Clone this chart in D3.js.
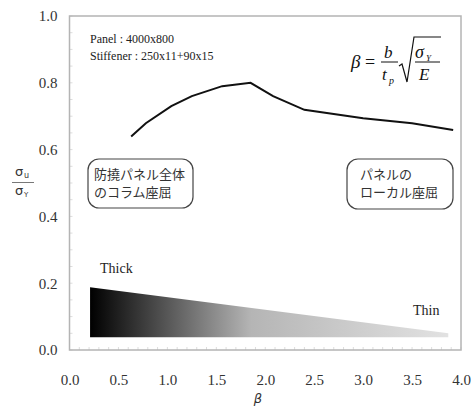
<!DOCTYPE html>
<html>
<head>
<meta charset="utf-8">
<script src="https://cdn.jsdelivr.net/npm/d3@7"></script>
<style>
  body { margin: 0; background: #fff; }
  svg { display: block; }
  .tick text { font-family: "Liberation Serif", "Times New Roman", serif; font-size: 15px; fill: #333; }
  .serif { font-family: "Liberation Serif", "Times New Roman", serif; }
  .jp { font-family: "Noto Sans CJK JP", sans-serif; font-size: 13px; fill: #333; }
</style>
</head>
<body>
<script>
// chart values
var betaVals = [0.63, 0.78, 1.04, 1.25, 1.56, 1.85, 2.08, 2.4, 3.0, 3.5, 3.92];
var strengthVals = [0.639, 0.679, 0.730, 0.760, 0.790, 0.800, 0.760, 0.719, 0.694, 0.679, 0.659];
var xTicks = [0.0, 0.5, 1.0, 1.5, 2.0, 2.5, 3.0, 3.5, 4.0];
var yTicks = [0.0, 0.2, 0.4, 0.6, 0.8, 1.0];
// thickness wedge: beta range and upper / lower edge values
var wedgeX = [0.21, 3.87];
var wedgeTop = [0.188, 0.05];
var wedgeBottom = [0.038, 0.038];

var width = 471, height = 408;
var margin = {top: 16, right: 10, bottom: 58, left: 69.5};

var svg = d3.select("body").append("svg")
    .attr("width", width)
    .attr("height", height);

var x = d3.scaleLinear().domain([0, 4]).range([margin.left, width - margin.right]);
var y = d3.scaleLinear().domain([0, 1]).range([height - margin.bottom, margin.top]);

// gradient for the wedge
var defs = svg.append("defs");
var grad = defs.append("linearGradient")
    .attr("id", "wedgeGrad")
    .attr("x1", "0%").attr("x2", "100%").attr("y1", "0%").attr("y2", "0%");
grad.append("stop").attr("offset", "0%").attr("stop-color", "#000");
grad.append("stop").attr("offset", "45%").attr("stop-color", "#b5b5b5");
grad.append("stop").attr("offset", "100%").attr("stop-color", "#e2e2e2");

// minor ticks (faint)
svg.append("g")
    .selectAll("line")
    .data(d3.range(0, 4.001, 0.1))
    .enter().append("line")
    .attr("x1", function(d) { return x(d); })
    .attr("x2", function(d) { return x(d); })
    .attr("y1", y(0))
    .attr("y2", y(0) - 3)
    .attr("stroke", "#ddd");
svg.append("g")
    .selectAll("line")
    .data(d3.range(0, 1.001, 0.05))
    .enter().append("line")
    .attr("x1", x(0))
    .attr("x2", x(0) + 3)
    .attr("y1", function(d) { return y(d); })
    .attr("y2", function(d) { return y(d); })
    .attr("stroke", "#ddd");

// frame
svg.append("rect")
    .attr("x", x(0))
    .attr("y", y(1))
    .attr("width", x(4) - x(0))
    .attr("height", y(0) - y(1))
    .attr("fill", "none")
    .attr("stroke", "#b4b4b4")
    .attr("stroke-width", 1.5);

// axes
svg.append("g")
    .attr("transform", "translate(0," + y(0) + ")")
    .call(d3.axisBottom(x).tickValues(xTicks).tickSize(0).tickPadding(24).tickFormat(d3.format(".1f")))
    .call(function(g) { g.select(".domain").remove(); });

svg.append("g")
    .attr("transform", "translate(" + x(0) + ",0)")
    .call(d3.axisLeft(y).tickValues(yTicks).tickSize(0).tickPadding(12).tickFormat(d3.format(".1f")))
    .call(function(g) { g.select(".domain").remove(); });

// wedge
var wedgePts = [
  [x(wedgeX[0]), y(wedgeTop[0])],
  [x(wedgeX[1]), y(wedgeTop[1])],
  [x(wedgeX[1]), y(wedgeBottom[1])],
  [x(wedgeX[0]), y(wedgeBottom[0])]
];
svg.append("polygon")
    .attr("points", wedgePts.map(function(p) { return p.join(","); }).join(" "))
    .attr("fill", "url(#wedgeGrad)");

// strength curve
var line = d3.line()
    .x(function(d, i) { return x(betaVals[i]); })
    .y(function(d) { return y(d); });
svg.append("path")
    .datum(strengthVals)
    .attr("d", line)
    .attr("fill", "none")
    .attr("stroke", "#111")
    .attr("stroke-width", 2);

// panel info
svg.append("text").attr("class", "serif")
    .attr("x", 90).attr("y", 43)
    .attr("font-size", 12).attr("fill", "#222")
    .text("Panel : 4000x800");
svg.append("text").attr("class", "serif")
    .attr("x", 90).attr("y", 60)
    .attr("font-size", 12).attr("fill", "#222")
    .text("Stiffener : 250x11+90x15");

// formula
var f = svg.append("g").attr("class", "serif").attr("fill", "#111");
f.append("text").attr("x", 351).attr("y", 68).attr("font-size", 19).attr("font-style", "italic").text("β");
f.append("text").attr("x", 365).attr("y", 68).attr("font-size", 18).text("=");
f.append("text").attr("x", 384).attr("y", 58).attr("font-size", 17).attr("font-style", "italic").text("b");
f.append("line").attr("x1", 381).attr("x2", 398).attr("y1", 62).attr("y2", 62).attr("stroke", "#111").attr("stroke-width", 1);
f.append("text").attr("x", 382).attr("y", 80).attr("font-size", 17).attr("font-style", "italic").text("t");
f.append("text").attr("x", 389).attr("y", 84).attr("font-size", 10).attr("font-style", "italic").text("p");
f.append("path").attr("d", "M399,66 L402,64 L407,82 L414,37 L441,37")
    .attr("fill", "none").attr("stroke", "#111").attr("stroke-width", 1.2);
f.append("text").attr("x", 415).attr("y", 58).attr("font-size", 18).attr("font-style", "italic").text("σ");
f.append("text").attr("x", 426).attr("y", 61).attr("font-size", 9).attr("font-style", "italic").text("Y");
f.append("line").attr("x1", 415).attr("x2", 440).attr("y1", 62).attr("y2", 62).attr("stroke", "#111").attr("stroke-width", 1);
f.append("text").attr("x", 419).attr("y", 80).attr("font-size", 17).attr("font-style", "italic").text("E");

// y-axis label
var yl = svg.append("g").attr("fill", "#333").attr("font-family", "'DejaVu Sans', sans-serif");
yl.append("text").attr("x", 15).attr("y", 176).attr("font-size", 13).text("σ");
yl.append("text").attr("x", 24).attr("y", 178).attr("font-size", 8).text("u");
yl.append("line").attr("x1", 12).attr("x2", 34).attr("y1", 182.5).attr("y2", 182.5).attr("stroke", "#555").attr("stroke-width", 0.8);
yl.append("text").attr("x", 15).attr("y", 195).attr("font-size", 13).text("σ");
yl.append("text").attr("x", 24).attr("y", 197).attr("font-size", 7).text("Y");

// x-axis label
svg.append("text")
    .attr("x", 258).attr("y", 403)
    .attr("text-anchor", "middle")
    .attr("font-family", "'DejaVu Sans', sans-serif")
    .attr("font-style", "italic").attr("font-size", 13).attr("fill", "#333")
    .text("β");

// boxes
function noteBox(x0, y0, w, h, lines, tx) {
  svg.append("rect")
      .attr("x", x0).attr("y", y0).attr("width", w).attr("height", h)
      .attr("rx", 11).attr("ry", 11)
      .attr("fill", "#fff").attr("stroke", "#444").attr("stroke-width", 1.2);
  lines.forEach(function(t, i) {
    svg.append("text").attr("class", "jp")
        .attr("x", tx).attr("y", y0 + 20 + i * 18)
        .text(t);
  });
}
noteBox(88, 159, 105, 49, ["防撓パネル全体", "のコラム座屈"], 94);
noteBox(347, 159, 106, 50, ["パネルの", "ローカル座屈"], 360);

// thick / thin
svg.append("text").attr("class", "serif")
    .attr("x", 100).attr("y", 273).attr("font-size", 14).attr("fill", "#222").text("Thick");
svg.append("text").attr("class", "serif")
    .attr("x", 413).attr("y", 315).attr("font-size", 14).attr("fill", "#222").text("Thin");
</script>
</body>
</html>
